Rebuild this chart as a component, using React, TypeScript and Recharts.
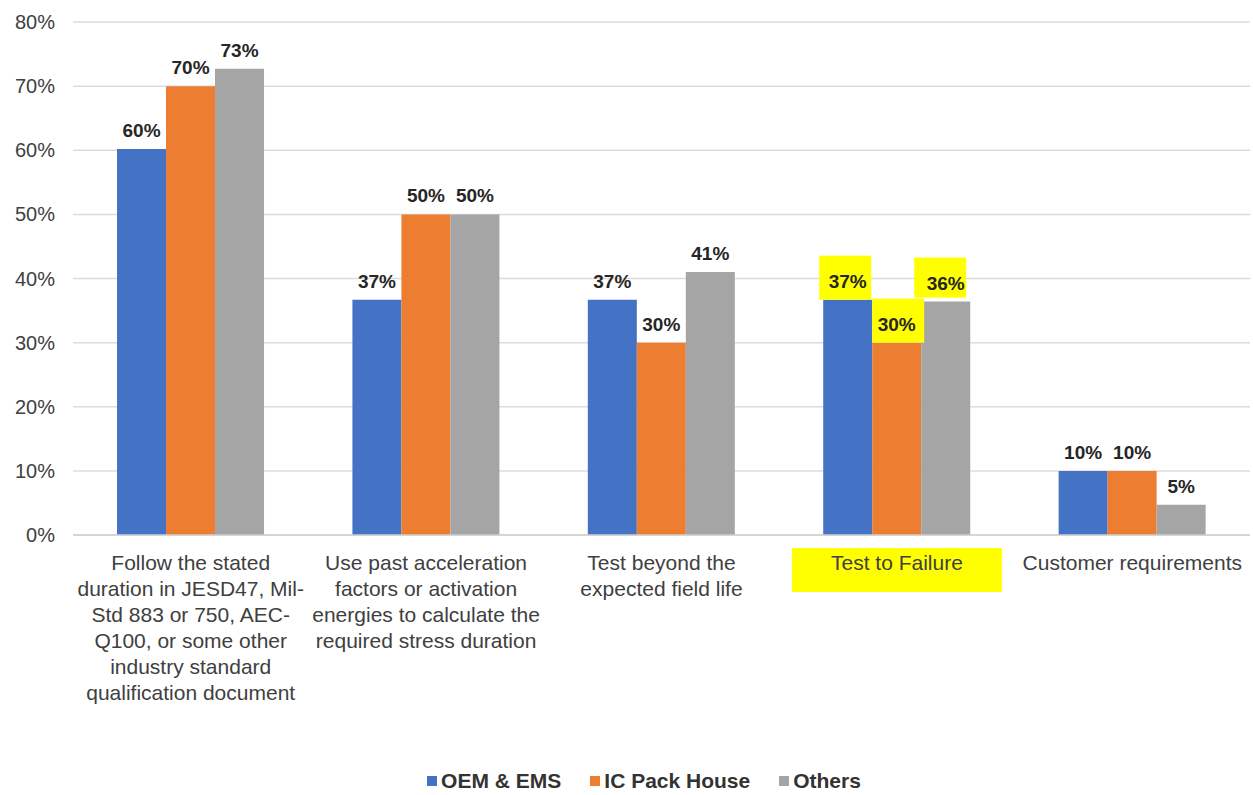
import React from 'react';
import { BarChart, Bar, XAxis, YAxis, CartesianGrid, Legend, LabelList } from 'recharts';

const categoryLines = [
  ['Follow the stated', 'duration in JESD47, Mil-', 'Std 883 or 750, AEC-', 'Q100, or some other', 'industry standard', 'qualification document'],
  ['Use past acceleration', 'factors or activation', 'energies to calculate the', 'required stress duration'],
  ['Test beyond the', 'expected field life'],
  ['Test to Failure'],
  ['Customer requirements'],
];

const categories = ['Follow the stated duration', 'Use past acceleration factors', 'Test beyond the expected field life', 'Test to Failure', 'Customer requirements'];
const oemEms = [60.2, 36.7, 36.7, 36.7, 10];
const icPackHouse = [70, 50, 30, 30, 10];
const others = [72.7, 50, 41, 36.4, 4.7];
const yTicks = [0, 10, 20, 30, 40, 50, 60, 70, 80];

const highlighted = 'Test to Failure';

const FONT = '"Liberation Sans", Arial, sans-serif';
const COLORS = { oem: '#4472C4', ic: '#ED7D31', others: '#A5A5A5' };
const YELLOW = '#FFFF00';

const data = categories.map((name, i) => ({
  name,
  oem: oemEms[i],
  ic: icPackHouse[i],
  others: others[i],
}));

const CategoryTick = (props: any) => {
  const { x, y, payload, index } = props;
  const lines = categoryLines[index] || [payload.value];
  const isHl = payload.value === highlighted;
  return (
    <g>
      {isHl && <rect x={x - 105} y={y + 5} width={210} height={44} fill={YELLOW} />}
      <text x={x} y={y} textAnchor="middle" fill="#404040" fontSize={21} fontFamily={FONT}>
        {lines.map((line: string, i: number) => (
          <tspan key={i} x={x} dy={i === 0 ? 27 : 26}>{line}</tspan>
        ))}
      </text>
    </g>
  );
};

// yellow marker boxes behind the labels of the highlighted group
const makeLabel = (offsetX: number, toBar: boolean) => (props: any) => {
  const { x, y, width, value, index } = props;
  const cx = x + width / 2;
  const ty = y - 12;
  const isHl = categories[index] === highlighted;
  const top = ty - 32;
  const bottom = toBar ? y : ty + 8;
  return (
    <g>
      {isHl && <rect x={x + offsetX} y={top} width={width + 3} height={bottom - top} fill={YELLOW} />}
      <text x={cx} y={ty} textAnchor="middle" fill="#262626" fontSize={19} fontWeight="bold" fontFamily={FONT}>
        {`${Math.round(value)}%`}
      </text>
    </g>
  );
};

const LegendContent = () => {
  const items = [
    { name: 'OEM & EMS', color: COLORS.oem },
    { name: 'IC Pack House', color: COLORS.ic },
    { name: 'Others', color: COLORS.others },
  ];
  return (
    <div style={{ display: 'flex', justifyContent: 'center', gap: 29, height: 50, paddingTop: 22, paddingLeft: 38, boxSizing: 'border-box', fontFamily: FONT }}>
      {items.map((it) => (
        <span key={it.name} style={{ display: 'flex', alignItems: 'center', fontSize: 21, fontWeight: 'bold', color: '#333' }}>
          <span style={{ width: 10, height: 10, background: it.color, marginRight: 4, display: 'inline-block' }} />
          {it.name}
        </span>
      ))}
    </div>
  );
};

export default function App() {
  return (
    <div style={{ position: 'absolute', left: 0, top: 0, width: 1253, height: 795, background: '#fff' }}>
      <BarChart
        width={1253}
        height={795}
        data={data}
        margin={{ top: 22, right: 3, left: 0, bottom: 0 }}
        barCategoryGap="18.7%"
        barGap={0}
      >
        <CartesianGrid vertical={false} stroke="#dcdcdc" strokeWidth={1.5} />
        <XAxis
          dataKey="name"
          height={210}
          interval={0}
          tickLine={false}
          axisLine={{ stroke: '#cfcfcf', strokeWidth: 1.5 }}
          tick={<CategoryTick />}
        />
        <YAxis
          width={73}
          domain={[0, 80]}
          ticks={yTicks}
          tickFormatter={(v: number) => `${v}%`}
          axisLine={false}
          tickLine={false}
          tickMargin={12}
          tick={{ fill: '#404040', fontSize: 20, fontFamily: FONT }}
        />
        <Legend verticalAlign="bottom" content={<LegendContent />} />
        <Bar dataKey="oem" name="OEM & EMS" fill={COLORS.oem} isAnimationActive={false}>
          <LabelList dataKey="oem" content={makeLabel(-4, true)} />
        </Bar>
        <Bar dataKey="ic" name="IC Pack House" fill={COLORS.ic} isAnimationActive={false}>
          <LabelList dataKey="ic" content={makeLabel(0, true)} />
        </Bar>
        <Bar dataKey="others" name="Others" fill={COLORS.others} isAnimationActive={false}>
          <LabelList dataKey="others" content={makeLabel(-7, false)} />
        </Bar>
      </BarChart>
    </div>
  );
}
